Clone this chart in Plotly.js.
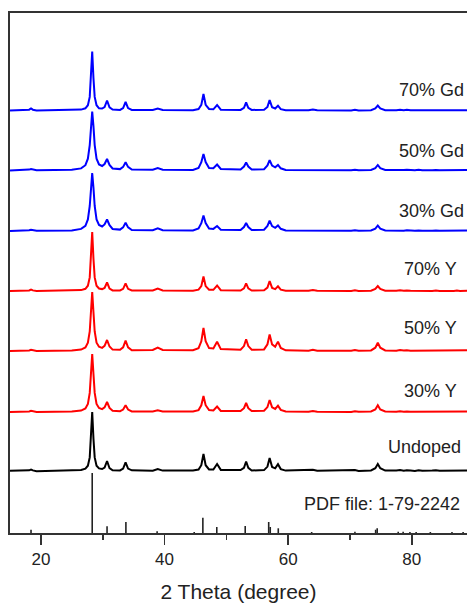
<!DOCTYPE html>
<html>
<head>
<meta charset="utf-8">
<script src="https://cdn.plot.ly/plotly-3.0.1.min.js"></script>
<style>html,body{margin:0;padding:0;background:#fff;overflow:hidden}#chart{width:467px;height:605px}</style>
</head>
<body>
<div id="chart"></div>
<script>
// 2-theta sampling positions (degree)
var twoTheta = [15, 17.6, 18.1, 18.4, 18.7, 19.3, 25.0, 26.5, 27.2, 27.6, 27.9, 28.1, 28.3, 28.5, 28.7, 29.0, 29.4, 29.9,
  30.3, 30.7, 31.1, 31.6, 32.8, 33.3, 33.7, 34.1, 34.7, 38.1, 38.9, 39.7, 44.6, 45.5, 45.95, 46.3, 46.65, 47.2,
  47.9, 48.5, 49.1, 52.3, 52.85, 53.2, 53.55, 54.1, 56.1, 56.65, 57.0, 57.4, 57.9, 58.35, 58.8, 59.6,
  63.3, 64.0, 64.7, 70.2, 70.8, 71.4, 73.4, 74.1, 74.5, 74.9, 75.7, 77.5, 78.1, 78.7, 79.2, 79.8,
  80.5, 81.1, 81.7, 83.3, 83.9, 84.5, 86.8, 87.3, 87.8, 88.93];

// intensities (a.u.) above each pattern's own baseline
var undoped = [0.3,0.3,0.7,1.5,0.6,-0.2,0.6,1.0,2.4,5.3,13.6,32.5,59,32.5,13.6,5.3,2.6,2.0,
  3.5,10,2.8,0.7,0.6,2.4,8.7,2.4,0.7,0.3,2,0.4,0.5,1.5,5.8,17,5.8,1.6,
  1.5,7,1.1,0.9,3.2,9.5,3.2,0.5,0.9,4.4,13,4.0,2.7,6.8,1.9,0.4,
  0.6,1.2,0.2,0.5,1,0.1,0.6,2.8,7,2.8,0.4,0.6,1.0,0.2,0.8,0.5,
  0.1,0.8,0.3,0.6,0.8,0.2,0.6,0.9,0.3,0.6];
var y30 = [0,0.15,0.6,1.2,0.6,0.1,0.4,1.4,3.5,8.1,19.1,38.3,58,38.3,19.1,8.1,4.0,2.9,
  4.7,10,4.0,1.2,0.8,2.4,6.7,2.4,0.5,0.5,1.8,0.5,0.5,1.9,6.7,16,6.8,1.9,
  1.6,5.5,1.1,0.9,3.8,9,3.8,0.9,1.2,4.9,12.0,4.7,3.0,6.3,2.1,0.5,
  0.2,0.9,0.2,0.1,0.8,0.2,0.5,2.6,6.7,2.6,0.5,0.2,0.7,0.3,0.6,0.2,
  0.2,0.6,0.2,0.1,0.6,0.2,0.2,0.6,0.2,0.6];
var y50 = [0,0.15,0.6,1.2,0.6,0.1,0.4,1.4,3.6,8.3,19.5,39,59,39,19.5,8.3,4.2,3.1,
  5.1,11,4.5,1.4,1.2,3.7,10.3,3.7,0.8,1.0,3.3,1.0,0.7,2.8,9.7,23,9.8,2.9,
  2.6,9.3,1.9,1.2,4.9,11.7,4.9,1.2,1.6,6.7,16.5,6.6,4.2,9.4,3.0,0.7,
  0.3,1.2,0.3,0.2,1,0.2,0.6,3.3,8.3,3.3,0.6,0.3,0.9,0.4,0.8,0.3,
  0.3,0.8,0.3,0.2,0.7,0.2,0.3,0.8,0.3,0.8];
var y70 = [0,0.1,0.6,1.5,0.6,0.1,0.3,0.9,2.2,5.3,13.6,32.5,59,32.5,13.6,5.3,2.5,1.9,
  3.1,8.5,2.4,0.6,0.5,2.2,7.7,2.2,0.5,0.6,2.5,0.6,0.3,1.3,4.9,14.5,4.9,1.3,
  1.2,5.5,0.8,0.5,2.6,7.7,2.6,0.5,0.7,3.4,10,3.1,1.9,4.7,1.3,0.2,
  0.2,1,0.2,0.1,0.7,0.1,0.3,2,5,2,0.3,0.2,0.7,0.2,0.6,0.2,
  0.1,0.6,0.1,0.1,0.5,0.1,0.1,0.5,0.1,0.3];
var gd30 = [0,0.2,0.7,1.2,0.7,0.2,0.6,2.1,5.2,11.6,25,43.5,58,43.5,25,11.6,6.0,4.5,
  6.6,11.5,5.8,2.0,1.4,3.6,8.3,3.6,0.9,0.8,2.7,0.8,0.5,2.5,7.8,15.5,7.9,2.4,
  2.1,5,1.3,1.0,4,8,4,1.0,1.3,5,10.3,4.9,3.2,5.6,2.2,0.5,
  0.3,1,0.3,0.2,0.8,0.2,0.5,2.4,5.5,2.4,0.5,0.2,0.7,0.3,0.7,0.2,
  0.2,0.6,0.2,0.2,0.6,0.2,0.2,0.6,0.3,0.5];
var gd50 = [0,0.3,0.9,1.5,0.9,0.2,0.65,2.1,5.3,11.8,25.4,44.3,59,44.3,25.4,11.8,6.0,4.5,
  6.5,11.5,5.6,2.0,1.4,3.6,8.3,3.6,0.9,0.8,2.5,0.8,0.5,2.6,8.3,16.5,8.4,2.5,
  2.3,6,1.5,1.0,4,8,4,1.0,1.3,5,10.3,4.9,3.2,5.6,2.2,0.5,
  0.3,1,0.3,0.2,0.8,0.2,0.5,2.4,5.5,2.4,0.5,0.2,0.8,0.4,0.7,0.3,
  0.2,0.7,0.2,0.2,0.6,0.2,0.2,0.6,0.3,0.5];
var gd70 = [0,0.2,0.8,2,0.8,0.1,0.3,0.9,2.2,5.3,13.6,32.5,59,32.5,13.6,5.3,2.2,2.0,
  3.5,10,3.1,0.9,0.6,2.4,8.5,2.4,0.5,0.5,2,0.5,0.3,1.5,5.6,16.5,5.7,1.5,
  1.2,5.5,0.8,0.6,2.7,8,2.7,0.6,0.7,3.6,10.5,3.2,2.0,4.8,1.3,0.3,
  0.2,1,0.2,0.1,0.8,0.1,0.3,2,5,2,0.3,0.2,0.8,0.3,0.7,0.2,
  0.2,0.6,0.1,0.1,0.6,0.1,0.1,0.6,0.2,0.3];

// reference pattern PDF 1-79-2242
var pdfPos = [18.4, 28.3, 30.7, 33.75, 38.8, 44.8, 46.2, 48.45, 53.05, 56.85, 57.1, 58.4, 63.8, 70.8, 74.15, 74.4, 77.8, 78.6, 79.7, 80.7, 83.0, 86.5, 88.3];
var pdfInt = [3.3, 60, 6.7, 11, 1.7, 1, 15.3, 6, 7, 11, 6, 4.7, 1, 1.3, 3.3, 4.7, 1.3, 1.3, 1, 1, 1, 1, 1];

var sampleNames = ["Undoped", "30% Y", "50% Y", "70% Y", "30% Gd", "50% Gd", "70% Gd"];
var sampleData = [undoped, y30, y50, y70, gd30, gd50, gd70];
var sampleColors = ["#000000", "#ff0000", "#ff0000", "#ff0000", "#0000ff", "#0000ff", "#0000ff"];
var stackOffsets = [62, 121, 182, 242, 302, 362.5, 422.5];

var traces = [];
sampleData.forEach(function (arr, i) {
  traces.push({
    type: 'scatter', mode: 'lines', x: twoTheta,
    y: arr.map(function (v) { return v + stackOffsets[i]; }),
    line: {color: sampleColors[i], width: 2},
    hoverinfo: 'skip', name: sampleNames[i]
  });
});
var sx = [], sy = [];
pdfPos.forEach(function (p, i) { sx.push(p, p, null); sy.push(0, pdfInt[i], null); });
traces.push({type: 'scatter', mode: 'lines', x: sx, y: sy, line: {color: '#222', width: 1.6}, hoverinfo: 'skip', name: 'PDF'});

var FONT = 'Liberation Sans, Arial, Helvetica, sans-serif';
var labelY = [86, 142, 205.5, 264, 322, 382, 443.3];
var labelX = [0.991, 0.982, 0.982, 0.982, 0.998, 0.998, 0.998];
var ann = sampleNames.map(function (n, i) {
  return {text: n, xref: 'paper', yref: 'y', x: labelX[i], y: labelY[i], xanchor: 'right', yanchor: 'middle',
    showarrow: false, font: {family: FONT, size: 18, color: '#222'}};
});
ann.push({text: 'PDF file: 1-79-2242', xref: 'paper', yref: 'y', x: 0.989, y: 29, xanchor: 'right', yanchor: 'middle',
  showarrow: false, font: {family: FONT, size: 18, color: '#222'}});

var layout = {
  width: 467, height: 605,
  margin: {l: 10, r: 0, t: 13, b: 72, pad: 0},
  paper_bgcolor: '#fff', plot_bgcolor: '#fff',
  showlegend: false,
  font: {family: FONT, color: '#222'},
  xaxis: {
    range: [15, 88.93], tickvals: [20, 40, 60, 80], ticktext: ['20', '40', '60', '80'],
    ticks: 'outside', ticklen: 10, tickwidth: 1.6, tickcolor: '#333',
    minor: {tickvals: [30, 50, 70], ticks: 'outside', ticklen: 5, tickwidth: 1.6, tickcolor: '#333'},
    showline: true, linecolor: '#333', linewidth: 1.8, mirror: true,
    showgrid: false, zeroline: false,
    tickfont: {family: FONT, size: 17, color: '#222'},
    title: {text: '2 Theta (degree)', font: {family: FONT, size: 21, color: '#222'}, standoff: 16}
  },
  yaxis: {
    range: [0, 520], showline: true, linecolor: '#333', linewidth: 1.8, mirror: false,
    ticks: '', showticklabels: false, showgrid: false, zeroline: false
  },
  annotations: ann
};
Plotly.newPlot('chart', traces, layout, {staticPlot: true, displayModeBar: false});
</script>
</body>
</html>
